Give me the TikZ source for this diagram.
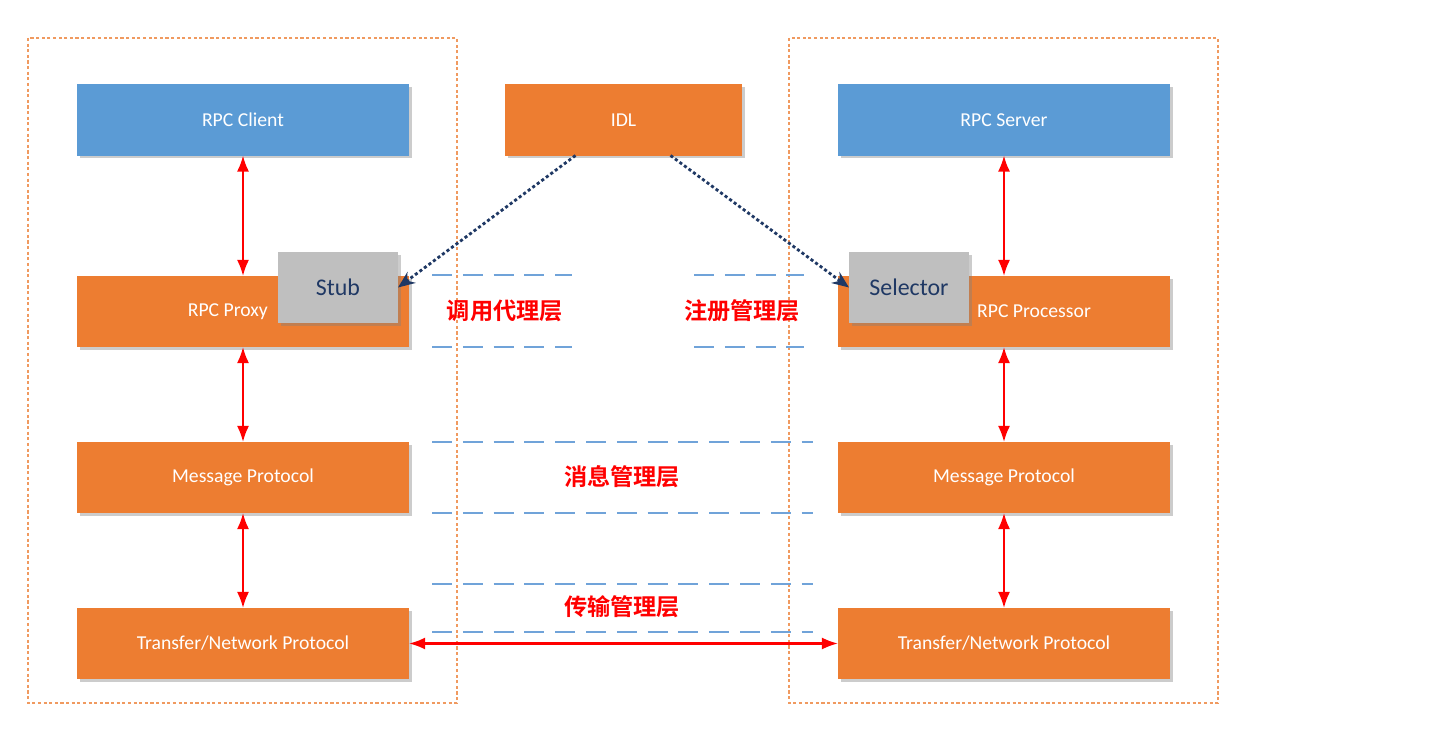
\documentclass[tikz,border=0pt]{standalone}
\usepackage{fontspec}
\setmainfont{Carlito}
\newfontfamily\cjk{Noto Sans CJK SC}[BoldFont={Noto Sans CJK SC Bold}]
\usetikzlibrary{arrows.meta,shadows,calc}
\definecolor{boxblue}{HTML}{5B9BD5}
\definecolor{boxorange}{HTML}{ED7D31}
\definecolor{stubgray}{HTML}{BFBFBF}
\definecolor{idlnavy}{HTML}{1F3864}
\definecolor{layerblue}{HTML}{70A3D9}
\definecolor{sidebox}{HTML}{F09A60}

\begin{document}
\begin{tikzpicture}[
  x=0.025cm,
  y=-0.025cm,
  outer sep=0pt,
  box/.style={
    minimum width=8.3cm,
    minimum height=1.775cm,
    inner sep=0pt,
    text=white,
    font=\fontsize{14}{16}\selectfont,
    drop shadow={shadow xshift=2pt, shadow yshift=-2pt, opacity=0.4},
  },
  tag/.style={
    box,
    fill=stubgray,
    minimum width=3cm,
    text=idlnavy,
    font=\fontsize{17}{19}\selectfont,
  },
  side/.style={draw=sidebox, line width=1.8pt, dash pattern=on 2.2pt off 1.8pt},
  layer/.style={draw=layerblue, line width=1.4pt, dash pattern=on 0.5cm off 0.27cm},
  layertext/.style={text=red, font=\cjk\bfseries\fontsize{16.5}{18}\selectfont},
]
  \useasboundingbox (0,0) rectangle (1440,740);

  \draw[side] (28,38) rectangle (457,703);
  \draw[side] (789,38) rectangle (1218,703);

  \foreach \xa/\xb/\y in {
    432/572/275, 432/572/347,
    694/804/275, 694/804/347,
    432/813/442, 432/813/513,
    432/813/584, 432/813/632%
  } {
    \draw[layer] (\xa,\y) -- (\xb,\y);
  }

  \node[layertext] (lproxy) at (505,311) {调用代理层};
  \node[layertext] (lreg) at (742,311) {注册管理层};
  \node[layertext] (lmsg) at (622,477) {消息管理层};
  \node[layertext] (ltrans) at (622,607) {传输管理层};

  \foreach \name/\x/\y/\colour/\code in {
    client/243/120/boxblue/RPC Client,
    server/1004/120/boxblue/RPC Server,
    lmessage/243/477.5/boxorange/Message Protocol,
    rmessage/1004/477.5/boxorange/Message Protocol,
    ltransfer/243/643.5/boxorange/{Transfer/Network Protocol},
    rtransfer/1004/643.5/boxorange/{Transfer/Network Protocol}%
  } {
    \node[box, fill=\colour] (\name) at (\x,\y) {\code};
  }
  \node[box, fill=boxorange, minimum width=5.925cm] (idl) at (623.5,120) {IDL};
  \node[box, fill=boxorange,
    label={[text=white, font=\fontsize{14}{16}\selectfont, xshift=-0.38cm]center:RPC Proxy}]
    (proxy) at (243,311.5) {};
  \node[box, fill=boxorange,
    label={[text=white, font=\fontsize{14}{16}\selectfont, xshift=0.75cm]center:RPC Processor}]
    (processor) at (1004,311.5) {};

  \node[tag] (stub) at (338,287.5) {Stub};
  \node[tag] (selector) at (909,287.5) {Selector};

  \begin{scope}[
    >={Latex[length=0.4cm, width=0.3cm]},
    red,
    line width=1.5pt,
  ]
    \draw[<->] (client) -- (proxy);
    \draw[<->] (proxy) -- (lmessage);
    \draw[<->] (lmessage) -- (ltransfer);
    \draw[<->] (server) -- (processor);
    \draw[<->] (processor) -- (rmessage);
    \draw[<->] (rmessage) -- (rtransfer);
    \draw[<->] (ltransfer) -- (rtransfer);
  \end{scope}

  \begin{scope}[
    >={Stealth[length=0.42cm, width=0.34cm]},
    idlnavy,
    line width=2pt,
    dash pattern=on 2.2pt off 1.8pt,
  ]
    \draw[->] ($(idl.south)+(-48,0)$) -- (stub.east);
    \draw[->] ($(idl.south)+(47,0)$) -- (selector.west);
  \end{scope}
\end{tikzpicture}
\end{document}
